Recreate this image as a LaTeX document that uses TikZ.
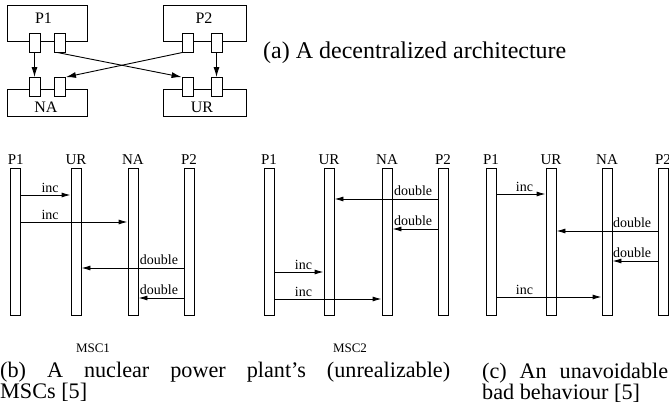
\documentclass[tikz,border=0pt]{standalone}
\usepackage{fontspec}
\setmainfont{Liberation Serif}
\usetikzlibrary{arrows.meta,positioning}

\tikzset{
  box/.style={draw=black, fill=white, line width=0.9pt, minimum height=36pt, inner sep=0pt},
  port/.style={draw=black, fill=white, line width=0.9pt, minimum width=11pt, minimum height=19pt, inner sep=0pt},
  boxlbl/.style={font=\fontsize{16}{16}\selectfont, inner sep=0pt},
  conn/.style={line width=0.9pt, -{Latex[length=10pt,width=6pt]}},
  life/.style={draw=black, line width=0.9pt, minimum width=10pt, minimum height=147pt, inner sep=0pt},
  lbl/.style={font=\fontsize{15}{15}\selectfont, inner sep=0pt},
  msg/.style={line width=0.9pt, -{Latex[length=9pt,width=5pt]}},
  msglbl/.style={font=\fontsize{14}{14}\selectfont, inner sep=0pt},
  msclbl/.style={font=\fontsize{13}{13}\selectfont, inner sep=0pt},
  capt/.style={font=\fontsize{22.2}{21}\selectfont, inner sep=0pt, align=justify, anchor=base west}
}

\begin{document}
\begin{tikzpicture}[x=1pt, y=-1pt]
  \useasboundingbox (0,0) rectangle (669,412);

  % (a) architecture
  \node[box, minimum width=80pt] (p1) at (47,23) {};
  \node[box, minimum width=83pt] (p2) at (205,23) {};
  \node[box, minimum width=80pt, minimum height=27pt] (na) at (47,102.5) {};
  \node[box, minimum width=83pt, minimum height=27pt] (ur) at (205,102.5) {};
  \node[boxlbl] (p1t) at (43.5,18) {P1};
  \node[boxlbl] (p2t) at (204,18) {P2};
  \node[boxlbl] (nat) at (46,107) {NA};
  \node[boxlbl] (urt) at (202,107) {UR};

  \node[port] (p1l) at (34.5,42.5) {};
  \node[port] (p1r) at (60,42.5) {};
  \node[port] (p2l) at (187.5,42.5) {};
  \node[port] (p2r) at (216.5,42.5) {};
  \node[port] (nal) at (34.5,87) {};
  \node[port] (nar) at (60,87) {};
  \node[port] (url) at (187.5,87) {};
  \node[port] (urr) at (216.5,87) {};

  \draw[conn] (p1l) -- (nal);
  \draw[conn] (p2r) -- (urr);
  \draw[conn] ([xshift=3pt]p1r.south west) -- (url.north west);
  \draw[conn] ([xshift=1pt]p2l.south west) -- (nar.north east);

  \node[capt, font=\fontsize{24}{24}\selectfont] (capa) at (263,59) {(a) A decentralized architecture};

  % (b) MSC1
  \node[life] (m1p1) at (15.7,241.5) {};
  \node[life] (m1ur) at (76,241.5) {};
  \node[life] (m1na) at (133,241.5) {};
  \node[life] (m1p2) at (189,241.5) {};
  \node[lbl, above=3pt of m1p1] (m1p1t) {P1};
  \node[lbl, above=3pt of m1ur] (m1urt) {UR};
  \node[lbl, above=3pt of m1na] (m1nat) {NA};
  \node[lbl, above=3pt of m1p2] (m1p2t) {P2};

  \draw[msg] (m1p1.east |- 0,195) node[msglbl, anchor=base west, xshift=20pt, yshift=3pt] (m1i1) {inc} -- (m1ur.west |- 0,195);
  \draw[msg] (m1p1.east |- 0,222) node[msglbl, anchor=base west, xshift=20pt, yshift=3pt] (m1i2) {inc} -- (m1na.west |- 0,222);
  \draw[msg] (m1p2.west |- 0,268) node[msglbl, anchor=base east, xshift=-5pt, yshift=4pt] (m1d1) {double} -- (m1ur.east |- 0,268);
  \draw[msg] (m1p2.west |- 0,298) node[msglbl, anchor=base east, xshift=-5pt, yshift=4pt] (m1d2) {double} -- (m1na.east |- 0,298);

  % (b) MSC2
  \node[life] (m2p1) at (269,241.5) {};
  \node[life] (m2ur) at (329,241.5) {};
  \node[life] (m2na) at (387,241.5) {};
  \node[life] (m2p2) at (443,241.5) {};
  \node[lbl, above=3pt of m2p1] (m2p1t) {P1};
  \node[lbl, above=3pt of m2ur] (m2urt) {UR};
  \node[lbl, above=3pt of m2na] (m2nat) {NA};
  \node[lbl, above=3pt of m2p2] (m2p2t) {P2};

  \draw[msg] (m2p2.west |- 0,199) node[msglbl, anchor=base east, xshift=-5pt, yshift=4pt] (m2d1) {double} -- (m2ur.east |- 0,199);
  \draw[msg] (m2p2.west |- 0,229) node[msglbl, anchor=base east, xshift=-5pt, yshift=4pt] (m2d2) {double} -- (m2na.east |- 0,229);
  \draw[msg] (m2p1.east |- 0,272) node[msglbl, anchor=base west, xshift=20pt, yshift=3pt] (m2i1) {inc} -- (m2ur.west |- 0,272);
  \draw[msg] (m2p1.east |- 0,299) node[msglbl, anchor=base west, xshift=20pt, yshift=3pt] (m2i2) {inc} -- (m2na.west |- 0,299);

  \node[msclbl] (msc1) at (93,348) {MSC1};
  \node[msclbl] (msc2) at (350,348) {MSC2};

  % (c) bad behaviour
  \node[life] (m3p1) at (491,241.5) {};
  \node[life] (m3ur) at (551,241.5) {};
  \node[life] (m3na) at (607,241.5) {};
  \node[life] (m3p2) at (663,241.5) {};
  \node[lbl, above=3pt of m3p1] (m3p1t) {P1};
  \node[lbl, above=3pt of m3ur] (m3urt) {UR};
  \node[lbl, above=3pt of m3na] (m3nat) {NA};
  \node[lbl, above=3pt of m3p2] (m3p2t) {P2};

  \draw[msg] (m3p1.east |- 0,194) node[msglbl, anchor=base west, xshift=19pt, yshift=3pt] (m3i1) {inc} -- (m3ur.west |- 0,194);
  \draw[msg] (m3p2.west |- 0,231) node[msglbl, anchor=base east, xshift=-6pt, yshift=4pt] (m3d1) {double} -- (m3ur.east |- 0,231);
  \draw[msg] (m3p2.west |- 0,261) node[msglbl, anchor=base east, xshift=-6pt, yshift=4pt] (m3d2) {double} -- (m3na.east |- 0,261);
  \draw[msg] (m3p1.east |- 0,297) node[msglbl, anchor=base west, xshift=19pt, yshift=3pt] (m3i2) {inc} -- (m3na.west |- 0,297);

  % captions
  \node[capt, text width=450pt] (capb) at (0,377) {(b) A nuclear power plant's (unrealizable)\linebreak MSCs [5]};
  \node[capt, text width=186pt] (capc) at (482,378) {(c) An unavoidable\linebreak bad behaviour [5]};
\end{tikzpicture}
\end{document}
